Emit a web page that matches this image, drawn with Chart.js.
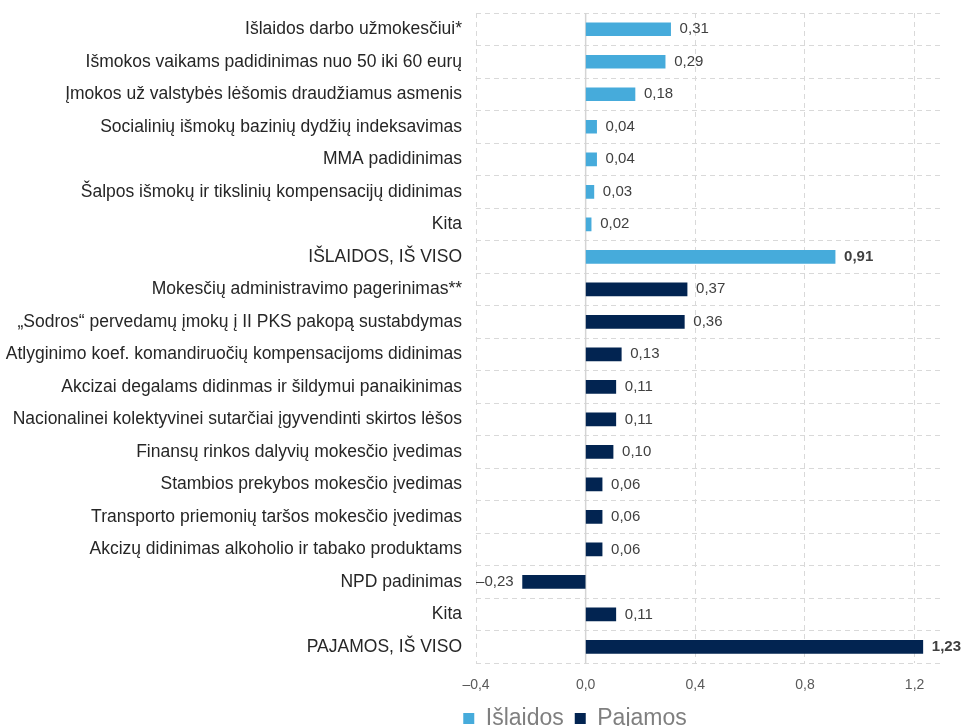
<!DOCTYPE html>
<html>
<head>
<meta charset="utf-8">
<script src="https://cdn.jsdelivr.net/npm/chart.js@4/dist/chart.umd.min.js"></script>
<style>
  body { margin: 0; background: #fff; }
  #wrap { width: 976px; height: 726px; }
</style>
</head>
<body>
<div id="wrap"><canvas id="myChart"></canvas></div>
<script>
// duomenys
const labels = [
  'Išlaidos darbo užmokesčiui*',
  'Išmokos vaikams padidinimas nuo 50 iki 60 eurų',
  'Įmokos už valstybės lėšomis draudžiamus asmenis',
  'Socialinių išmokų bazinių dydžių indeksavimas',
  'MMA padidinimas',
  'Šalpos išmokų ir tikslinių kompensacijų didinimas',
  'Kita',
  'IŠLAIDOS, IŠ VISO',
  'Mokesčių administravimo pagerinimas**',
  '„Sodros“ pervedamų įmokų į II PKS pakopą sustabdymas',
  'Atlyginimo koef. komandiruočių kompensacijoms didinimas',
  'Akcizai degalams didinmas ir šildymui panaikinimas',
  'Nacionalinei kolektyvinei sutarčiai įgyvendinti skirtos lėšos',
  'Finansų rinkos dalyvių mokesčio įvedimas',
  'Stambios prekybos mokesčio įvedimas',
  'Transporto priemonių taršos mokesčio įvedimas',
  'Akcizų didinimas alkoholio ir tabako produktams',
  'NPD padinimas',
  'Kita',
  'PAJAMOS, IŠ VISO'
];
const islaidos = [0.31, 0.29, 0.18, 0.04, 0.04, 0.03, 0.02, 0.91,
  null, null, null, null, null, null, null, null, null, null, null, null];
const pajamos = [null, null, null, null, null, null, null, null,
  0.37, 0.36, 0.13, 0.11, 0.11, 0.10, 0.06, 0.06, 0.06, -0.23, 0.11, 1.23];
const totalIdx = [7, 19];   // paryskinti

const xTicks = [-0.4, 0, 0.4, 0.8, 1.2];
const xMin = -0.4;
const xMax = 1.3;

const FONT = '"Liberation Sans", Arial, sans-serif';

function fmt(v, digits) {
  let s = Math.abs(v).toFixed(digits).replace('.', ',');
  return v < 0 ? '\u2013' + s : s;
}

// nulines linijos plugin
const zeroLine = {
  id: 'zeroLine',
  beforeDatasetsDraw(chart) {
    const x = chart.scales.x.getPixelForValue(0);
    const a = chart.chartArea;
    const ctx = chart.ctx;
    ctx.save();
    ctx.strokeStyle = '#d4d4d4';
    ctx.lineWidth = 1.5;
    ctx.beginPath();
    ctx.moveTo(x, a.top);
    ctx.lineTo(x, a.bottom);
    ctx.stroke();
    ctx.restore();
  }
};

// legenda pastumti po grafiku
const legendShift = {
  id: 'legendShift',
  afterLayout(chart) {
    const lg = chart.legend;
    lg.left += 104;
    lg.right += 104;
    lg.top -= 12;
    lg.bottom -= 12;
  }
};

// reiksmiu etiketes
const valueLabels = {
  id: 'valueLabels',
  afterDatasetsDraw(chart) {
    const ctx = chart.ctx;
    ctx.save();
    ctx.fillStyle = '#404040';
    ctx.textBaseline = 'middle';
    chart.data.datasets.forEach((ds, di) => {
      const meta = chart.getDatasetMeta(di);
      meta.data.forEach((bar, i) => {
        const v = ds.data[i];
        if (v === null) return;
        const bold = totalIdx.includes(i);
        ctx.font = (bold ? 'bold ' : '') + '15px ' + FONT;
        if (v < 0) {
          ctx.textAlign = 'right';
          ctx.fillText(fmt(v, 2), bar.x - 9, bar.y);
        } else {
          ctx.textAlign = 'left';
          ctx.fillText(fmt(v, 2), bar.x + 9, bar.y);
        }
      });
    });
    ctx.restore();
  }
};

const config = {
  type: 'bar',
  data: {
    labels: labels,
    datasets: [
      { label: 'Išlaidos', data: islaidos, backgroundColor: '#46abdb', barThickness: 13 },
      { label: 'Pajamos', data: pajamos, backgroundColor: '#022451', barThickness: 13 }
    ]
  },
  options: {
    indexAxis: 'y',
    responsive: true,
    maintainAspectRatio: false,
    animation: false,
    grouped: false,
    layout: { padding: { left: 0, right: 34, top: 13, bottom: -26 } },
    scales: {
      x: {
        min: xMin,
        max: xMax,
        afterBuildTicks(scale) {
          scale.ticks = xTicks.map(v => ({ value: v }));
        },
        grid: { color: '#d9d9d9', drawTicks: false },
        border: { display: false, dash: [5, 4] },
        ticks: {
          autoSkip: false,
          maxRotation: 0,
          padding: 14,
          color: '#595959',
          font: { family: FONT, size: 14 },
          callback: v => fmt(v, 1)
        }
      },
      y: {
        afterFit(scale) { scale.width = 476; },
        grid: { color: '#d9d9d9', drawTicks: true, tickLength: 14, tickColor: 'rgba(0,0,0,0)', offset: true },
        border: { display: false, dash: [5, 4] },
        ticks: {
          autoSkip: false,
          padding: 0,
          color: '#262626',
          font: { family: FONT, size: 17.5 }
        }
      }
    },
    plugins: {
      legend: {
        position: 'bottom',
        labels: {
          boxWidth: 11,
          boxHeight: 11,
          padding: 11,
          color: '#7f7f7f',
          font: { family: FONT, size: 23 }
        }
      },
      tooltip: { enabled: false }
    }
  },
  plugins: [zeroLine, valueLabels, legendShift]
};

new Chart(document.getElementById('myChart').getContext('2d'), config);
</script>
</body>
</html>
